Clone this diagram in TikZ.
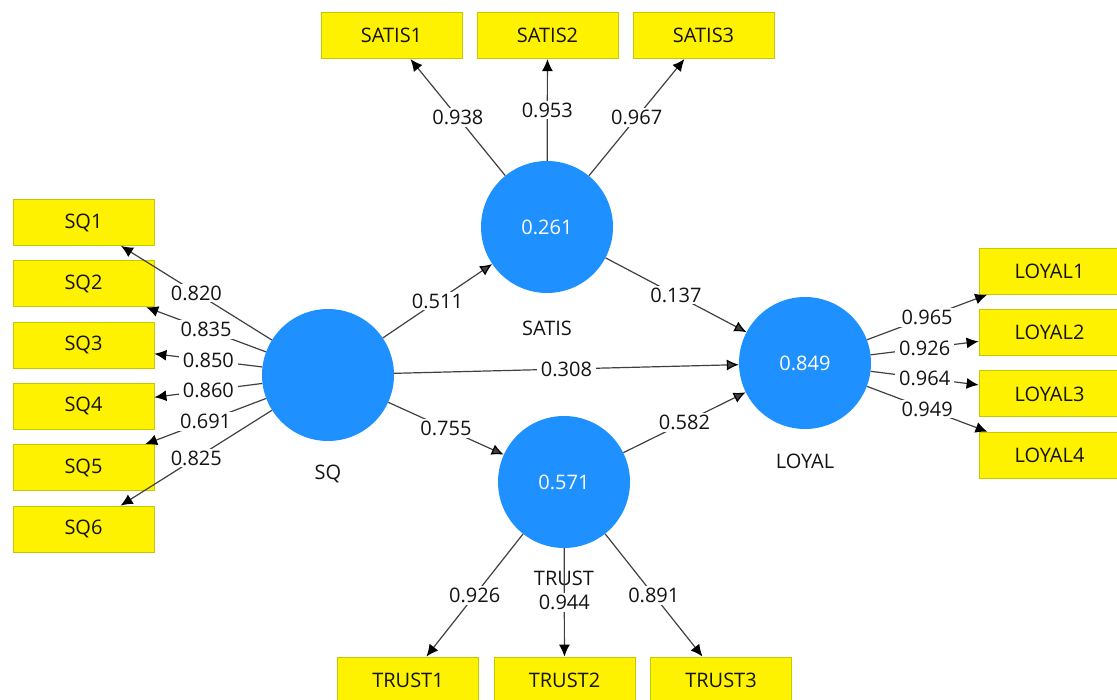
\documentclass[tikz,border=0pt]{standalone}
\usepackage{fontspec}
\setmainfont{Open Sans}
\usetikzlibrary{positioning,arrows.meta}
\definecolor{plsblue}{RGB}{30,144,255}
\definecolor{boxline}{RGB}{200,200,0}
\definecolor{linegray}{RGB}{64,64,64}
\begin{document}
\begin{tikzpicture}[x=1pt,y=-1pt]
        \tikzstyle{every node}=[font=\fontsize{20}{24}\selectfont, text=black!92]
        \tikzstyle{lv}=[circle, fill=plsblue, minimum size=132pt, inner sep=0pt, text=white]
        \tikzstyle{mv}=[rectangle, fill=yellow, draw=boxline, line width=0.8pt, minimum width=141pt, minimum height=46pt, inner sep=0pt]
        \tikzstyle{val}=[fill=white, inner xsep=4pt, inner ysep=2pt]
        \tikzstyle{ld}=[linegray, line width=1.2pt, -{Latex[length=12pt,width=11pt,black]}]

        \useasboundingbox (0,0) rectangle (1117,700);

        \node[lv]   (SQ)    at (328,375) {};
        \node[lv]   (SATIS) at (547,227) {0.261};
        \node[lv]   (LOYAL) at (805,363) {0.849};
        \node[lv]   (TRUST) at (564,482) {0.571};

        \node   (SQname)    [below=20pt of SQ]    {SQ};
        \node   (SATISname) [below=24pt of SATIS] {SATIS};
        \node   (LOYALname) [below=21pt of LOYAL] {LOYAL};
        \node   (TRUSTname) [below=19pt of TRUST] {TRUST};

        \foreach \i in {1,...,6}
            \node[mv] (SQ\i) at (83.5,161.2+61.3*\i) {SQ\i};
        \foreach \i/\x in {1/391.5, 2/547.5, 3/703.5}
            \node[mv] (SATIS\i) at (\x,35.7) {SATIS\i};
        \foreach \i/\x in {1/408, 2/564.5, 3/721}
            \node[mv] (TRUST\i) at (\x,680) {TRUST\i};
        \foreach \i in {1,...,4}
            \node[mv] (LOYAL\i) at (1049.5,210+61.3*\i) {LOYAL\i};

        \foreach \i/\v in {1/0.820, 2/0.835, 3/0.850, 4/0.860, 5/0.691, 6/0.825}
            \draw[ld] (SQ) -- node[val] {\v} (SQ\i);
        \foreach \i/\v in {1/0.938, 2/0.953, 3/0.967}
            \draw[ld] (SATIS) -- node[val] {\v} (SATIS\i);
        \foreach \i/\v in {1/0.926, 2/0.944, 3/0.891}
            \draw[ld] (TRUST) -- node[val] {\v} (TRUST\i);
        \foreach \i/\v in {1/0.965, 2/0.926, 3/0.964, 4/0.949}
            \draw[ld] (LOYAL) -- node[val] {\v} (LOYAL\i);

        \path[ld]   (SQ) edge node[val] {0.511} (SATIS)
                    (SQ) edge node[val] {0.308} (LOYAL)
                    (SQ) edge node[val] {0.755} (TRUST)
                    (SATIS) edge node[val] {0.137} (LOYAL)
                    (TRUST) edge node[val] {0.582} (LOYAL);

    \end{tikzpicture}
\end{document}
